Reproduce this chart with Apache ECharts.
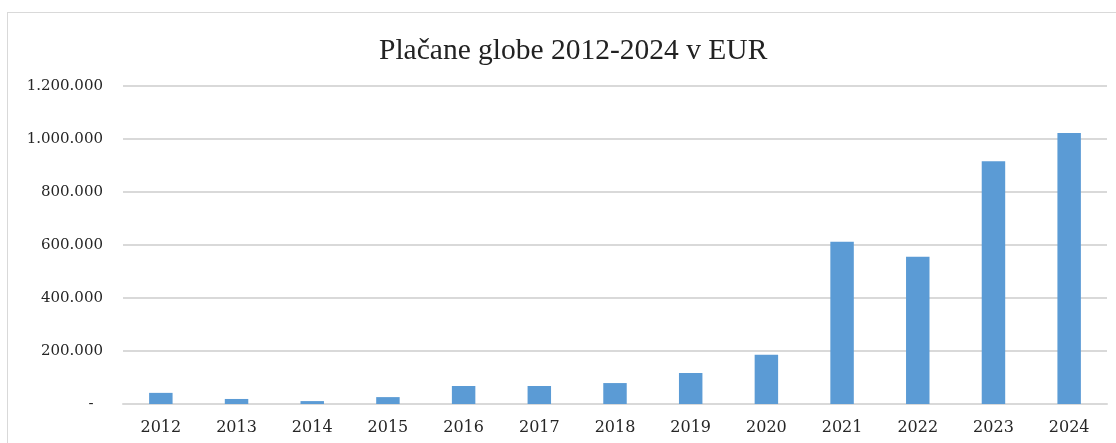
<!DOCTYPE html>
<html>
<head>
<meta charset="utf-8">
<script src="https://cdn.jsdelivr.net/npm/echarts@6/dist/echarts.min.js"></script>
<style>
  body { margin: 0; background: #fff; }
  #wrap { position: relative; width: 1116px; height: 443px; overflow: hidden; }
  #frame { position: absolute; left: 7px; top: 12px; width: 1120px; height: 440px; border: 1.5px solid #d9d9d9; box-sizing: border-box; }
  #myChart { position: absolute; left: 0; top: 0; width: 1116px; height: 443px; }
</style>
</head>
<body>
<div id="wrap">
  <div id="frame"></div>
  <div id="myChart"></div>
</div>
<script>
// leta in plačane globe (EUR)
const years = ['2012', '2013', '2014', '2015', '2016', '2017', '2018', '2019', '2020', '2021', '2022', '2023', '2024'];
const globe = [42000, 19000, 11000, 26000, 68000, 68000, 79000, 117000, 186000, 612000, 556000, 916000, 1023000];
const yTicks = [0, 200000, 400000, 600000, 800000, 1000000, 1200000];

const titleFont = 'Liberation Serif';
const labelFont = 'DejaVu Serif';

function fmt(v) {
  if (v === 0) return '-  ';
  return String(v).replace(/\B(?=(\d{3})+(?!\d))/g, '.');
}

const chart = echarts.init(document.getElementById('myChart'));
chart.setOption({
  animation: false,
  title: {
    text: 'Plačane globe 2012-2024 v EUR',
    left: 374,
    top: 31,
    textStyle: { fontFamily: titleFont, fontSize: 29.5, fontWeight: 'normal', color: '#222' }
  },
  grid: { left: 123, right: 9, top: 86, bottom: 39 },
  xAxis: {
    type: 'category',
    data: years,
    axisLine: { lineStyle: { color: '#d9d9d9', width: 2 } },
    axisTick: { show: false },
    axisLabel: { fontFamily: labelFont, fontSize: 16, color: '#262626', margin: 16 }
  },
  yAxis: {
    type: 'value',
    min: yTicks[0],
    max: yTicks[yTicks.length - 1],
    interval: yTicks[1] - yTicks[0],
    axisLine: { show: false },
    axisTick: { show: false },
    splitLine: { lineStyle: { color: '#d9d9d9', width: 2 } },
    axisLabel: { fontFamily: labelFont, fontSize: 15, color: '#262626', margin: 20, formatter: fmt }
  },
  series: [{
    type: 'bar',
    data: globe,
    barWidth: '31%',
    itemStyle: { color: '#5b9bd5' }
  }]
});
</script>
</body>
</html>
